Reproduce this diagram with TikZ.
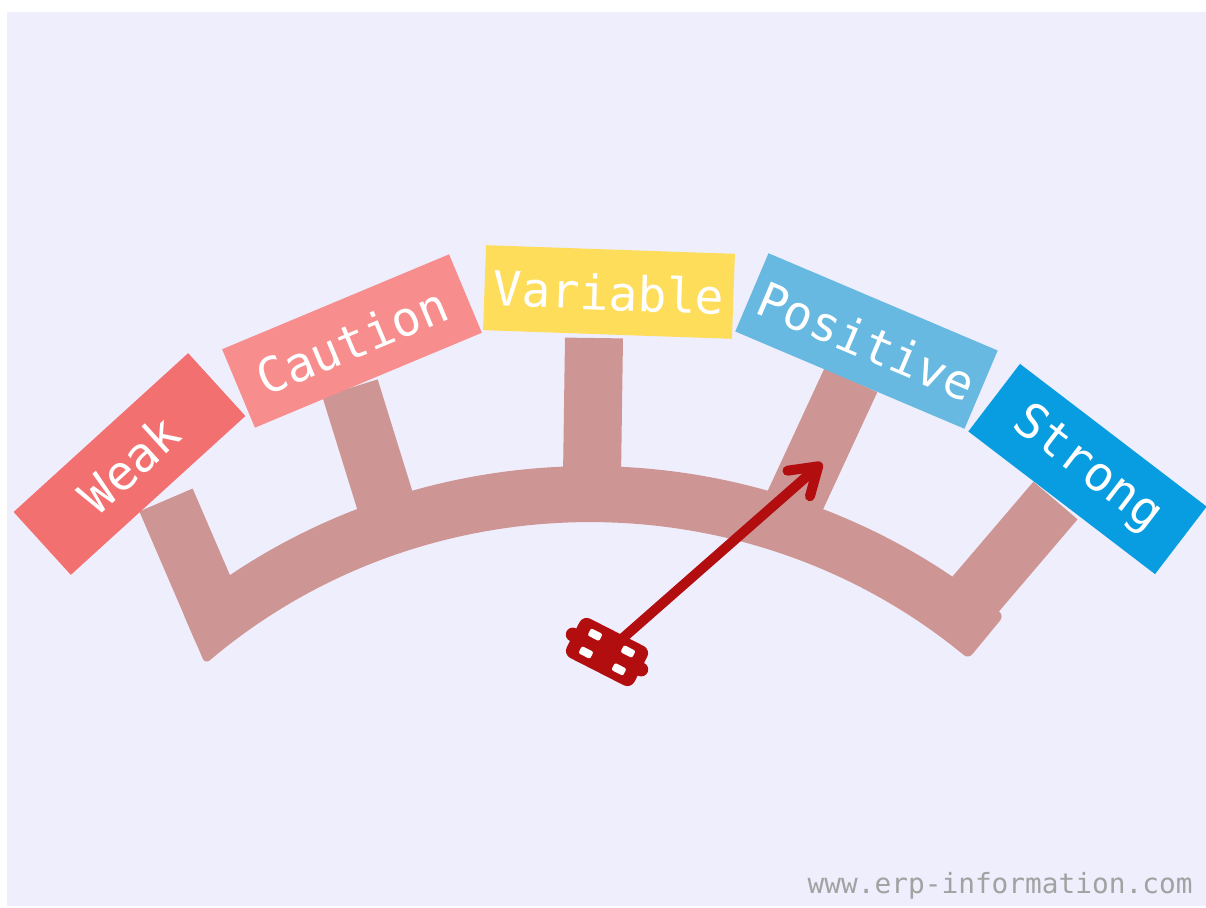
\documentclass[tikz,border=0pt]{standalone}
\usepackage{fontspec}
\newfontfamily\gaugefont{DejaVu Sans Mono}
\usetikzlibrary{arrows.meta}
\definecolor{panel}{HTML}{EFEEFC}
\definecolor{gaugeband}{HTML}{CD9593}
\definecolor{weakred}{HTML}{F37071}
\definecolor{cautionpink}{HTML}{F78E8D}
\definecolor{variableyellow}{HTML}{FEDD5A}
\definecolor{positiveblue}{HTML}{67B9E2}
\definecolor{strongblue}{HTML}{089DE1}
\definecolor{needlered}{HTML}{B20E10}
\definecolor{markgray}{HTML}{A2A2A2}
\tikzset{
    signbox/.style={
        rectangle, inner sep=0pt,
        minimum height=42.5pt,
        text=white,
        font=\gaugefont\fontsize{24}{24}\selectfont
    },
    leg/.style={draw=gaugeband, line width=29pt, line cap=butt},
    needle/.style={
        draw=needlered, line width=5pt, line cap=round,
        -{Straight Barb[length=13pt, width=17pt, round]}
    },
    hubbox/.style={
        rectangle, rounded corners=4pt, inner sep=0pt,
        minimum width=38pt, minimum height=22pt,
        fill=needlered
    }
}

\begin{document}
\begin{tikzpicture}[x=0.5pt, y=0.5pt]
    \useasboundingbox (0,0) rectangle (1206,907);
    \fill[white] (0,0) rectangle (1206,907);
    \fill[panel] (7,1) rectangle (1206,895);

    % Gauge band
    \fill[gaugeband, rounded corners=3pt]
        ([shift={(590,-211)}]50.5:651) arc[start angle=50.5, end angle=128.8, radius=651]
        -- ([shift={(590,-211)}]130.3:595) arc[start angle=130.3, end angle=50.5, radius=595]
        -- cycle;

    % Stems up to the signs
    \foreach \name/\tx/\ty/\fx/\fy in {weak/166/407/222/277, caution/350/519/390/390,
        variable/594/569/592/430, positive/851/527/788/391, strong/1055.5/406.5/974/311} {
        \coordinate (\name-top) at (\tx,\ty);
        \coordinate (\name-foot) at (\fx,\fy);
        \draw[leg] (\name-foot) -- (\name-top);
    }

    % Signs
    \node[signbox, fill=weakred, minimum width=118pt, rotate=42.3] (weak) at (129.5,443) {Weak};
    \node[signbox, fill=cautionpink, minimum width=123pt, rotate=22.7] (caution) at (352,566) {Caution};
    \node[signbox, fill=variableyellow, minimum width=124.5pt, rotate=-2] (variable) at (609,615) {Variable};
    \node[signbox, fill=positiveblue, minimum width=124.5pt, rotate=-23] (positive) at (866.5,566) {Positive};
    \node[signbox, fill=strongblue, minimum width=117.5pt, rotate=-37.4] (strong) at (1087.5,438) {Strong};

    % Needle
    \coordinate (pivot) at (607,255);
    \coordinate (tip) at (822,444);
    \draw[needle] (pivot) -- (tip);
    \node[hubbox, rotate=-27] (hub) at (pivot) {};
    \fill[needlered] (hub.west) circle (3.5pt) (hub.east) circle (3.5pt);
    \begin{scope}[shift={(pivot)}, rotate=-27]
        \foreach \sx in {-18.5,18.5}
            \foreach \sy in {-10,10}
                \fill[white, rounded corners=1pt] ({\sx-6.5},{\sy-4}) rectangle ({\sx+6.5},{\sy+4});
    \end{scope}

    \node[anchor=base east, inner sep=0pt, text=markgray, font=\gaugefont\fontsize{13.9}{14}\selectfont]
        (site) at (1193,14) {www.erp-information.com};
\end{tikzpicture}
\end{document}
